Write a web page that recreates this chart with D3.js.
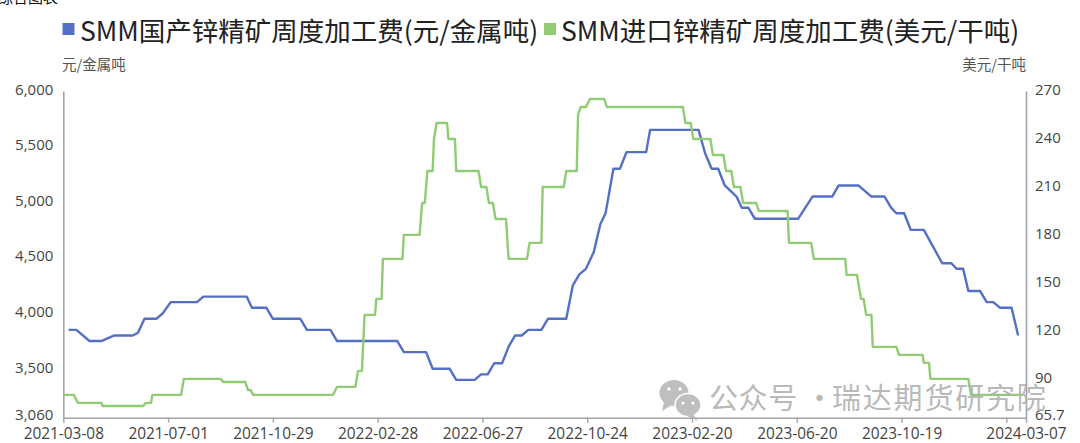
<!DOCTYPE html>
<html><head><meta charset="utf-8">
<script src="https://cdn.jsdelivr.net/npm/d3@7/dist/d3.min.js"></script>
<style>
html,body{margin:0;padding:0;background:#fff;overflow:hidden}
svg{display:block}
text{font-family:"Open Sans","Noto Sans CJK SC",sans-serif}
.cjk{font-family:"Noto Sans CJK SC",sans-serif}
.domain{stroke:#a3a3ab;stroke-width:1.6}
.tick line{stroke:#a3a3ab;stroke-width:1.4}
.tick text{fill:#444;font-size:15px}
.xa .tick text{font-size:15.4px}
</style></head><body>
<svg id="c" width="1080" height="443"></svg>
<script>
const categoryCount = 735;
const xTickIndex = [0,80,160,240,320,400,480,560,640,720,735];
const xTickLabels = ["2021-03-08","2021-07-01","2021-10-29","2022-02-28","2022-06-27","2022-10-24","2023-02-20","2023-06-20","2023-10-19","","2024-03-07"];
const leftTicks = [6000,5500,5000,4500,4000,3500,3060];
const rightTicks = [270,240,210,180,150,120,90,65.7];
const seriesNames = ["SMM国产锌精矿周度加工费(元/金属吨)","SMM进口锌精矿周度加工费(美元/干吨)"];

const domesticIdx = [4,10,20,29,39,53,57,62,71,76,82,102,107,140,144,155,160,181,186,204,209,255,260,277,282,295,300,314,319,324,329,335,340,345,350,355,365,370,384,389,394,399,405,410,414,420,425,430,445,448,485,490,495,500,505,514,518,523,528,561,572,587,592,607,617,627,632,636,642,647,657,671,678,682,687,691,700,705,710,715,724,729];
const domesticVal = [3850,3850,3750,3750,3800,3800,3825,3950,3950,4000,4100,4100,4150,4150,4050,4050,3950,3950,3850,3850,3750,3750,3650,3650,3500,3500,3400,3400,3450,3450,3550,3550,3700,3800,3800,3850,3850,3950,3950,4250,4350,4400,4550,4800,4900,5300,5300,5450,5450,5650,5650,5440,5300,5300,5150,5050,4950,4950,4850,4850,5050,5050,5150,5150,5050,5050,4950,4900,4900,4750,4750,4450,4450,4400,4400,4200,4200,4100,4100,4050,4050,3800];

const importIdx = [0,8,11,29,30,61,63,67,68,90,92,120,122,139,141,143,145,206,209,223,225,228,230,238,239,243,244,259,260,272,274,276,278,282,283,285,293,294,299,300,317,319,323,325,328,330,338,340,354,356,365,366,382,384,392,393,395,399,402,413,415,473,475,479,481,494,496,504,506,510,512,517,519,529,531,553,554,571,573,597,598,606,609,611,613,617,618,636,638,656,657,661,662,691,693,733];
const importVal = [80,80,75,75,73,73,75,75,80,80,90,90,88,88,83,83,80,80,85,85,95,95,130,130,140,140,165,165,180,180,200,200,220,220,240,250,250,240,240,220,220,210,210,200,200,190,190,165,165,175,175,210,210,220,220,255,260,260,265,265,260,260,250,250,240,240,230,230,220,220,210,210,200,200,195,195,175,175,165,165,155,155,140,140,130,130,110,110,105,105,100,100,90,90,80,80];

const svg = d3.select("#c");
const x = d3.scaleLinear().domain([0,categoryCount]).range([63.3,1026]);
const yL = d3.scaleLinear().domain([3060,6000]).range([417.7,91]);
const yR = d3.scaleLinear().domain([65.7,270]).range([417.7,91]);

// clipped heading at the very top of the screenshot
svg.append("text").attr("class","cjk").attr("x",-2).attr("y",3).attr("font-size",15).attr("fill","#111").text("综合图表");

// axes
const ax = svg.append("g").attr("class","xa").attr("transform","translate(0,417.7)")
  .call(d3.axisBottom(x).tickValues(xTickIndex).tickSize(5).tickSizeOuter(0).tickPadding(5)
    .tickFormat((d,i)=>xTickLabels[i]));
ax.selectAll("text").attr("dy","0.71em");
const al = svg.append("g").attr("transform","translate(63.3,0)")
  .call(d3.axisLeft(yL).tickValues(leftTicks).tickSize(0).tickSizeOuter(0).tickPadding(10).tickFormat(d3.format(",")));
al.selectAll("text").attr("dy",d=>d===3060?"0.15em":"0.22em");
const ar = svg.append("g").attr("transform","translate(1026,0)")
  .call(d3.axisRight(yR).tickValues(rightTicks).tickSize(0).tickSizeOuter(0).tickPadding(9).tickFormat(d=>d));
ar.selectAll("text").attr("dy",d=>d===65.7?"0.15em":"0.22em");

// units
svg.append("text").attr("class","cjk").attr("x",62).attr("y",70).attr("font-size",14.5).attr("fill","#555").text("元/金属吨");
svg.append("text").attr("class","cjk").attr("x",1026).attr("y",70).attr("text-anchor","end").attr("font-size",14.5).attr("fill","#555").text("美元/干吨");

// legend
const palette = ["#5470c6","#91cc75"];
[[62.5,80],[544,561]].forEach(([sx,tx],i)=>{
  svg.append("rect").attr("x",sx).attr("y",23).attr("width",12).attr("height",12).attr("fill",palette[i]);
  svg.append("text").attr("class","cjk").attr("x",tx).attr("y",41).attr("font-size",26.5).attr("fill","#222").text(seriesNames[i]);
});

// lines
const domestic = domesticIdx.map((d,i)=>[d,domesticVal[i]]);
const imported = importIdx.map((d,i)=>[d,importVal[i]]);
const lineL = d3.line().x(d=>x(d[0])).y(d=>yL(d[1]));
const lineR = d3.line().x(d=>x(d[0])).y(d=>yR(d[1]));
svg.append("path").datum(domestic).attr("d",lineL).attr("fill","none").attr("stroke",palette[0]).attr("stroke-width",2.4).attr("stroke-linejoin","round");
svg.append("path").datum(imported).attr("d",lineR).attr("fill","none").attr("stroke",palette[1]).attr("stroke-width",2.4).attr("stroke-linejoin","round");

// watermark
const wm = svg.append("g").attr("opacity",0.85);
wm.append("ellipse").attr("cx",674).attr("cy",393).attr("rx",14.5).attr("ry",13).attr("fill","#b4b4b4");
wm.append("path").attr("d","M664 402 L662 411 L672 405 Z").attr("fill","#b4b4b4");
wm.append("ellipse").attr("cx",688).attr("cy",405).attr("rx",13).attr("ry",11.5).attr("fill","#b4b4b4").attr("stroke","#fff").attr("stroke-width",1.5);
wm.append("path").attr("d","M693 414 L698 421 L687 416 Z").attr("fill","#b4b4b4");
[[669,389,1.8],[680,389,1.8],[683,403,1.6],[693,403,1.6]].forEach(([a,b,r])=>wm.append("circle").attr("cx",a).attr("cy",b).attr("r",r).attr("fill","#fff"));
const wt = svg.append("text").attr("class","cjk").attr("y",409).attr("font-size",29).attr("fill","#b0b0b0").attr("fill-opacity",0.9);
wt.append("tspan").attr("x",709).attr("letter-spacing","0.6px").text("公众号");
wt.append("tspan").attr("x",805).text("·");
wt.append("tspan").attr("x",832).attr("letter-spacing","1.8px").text("瑞达期货研究院");
</script>
</body></html>
